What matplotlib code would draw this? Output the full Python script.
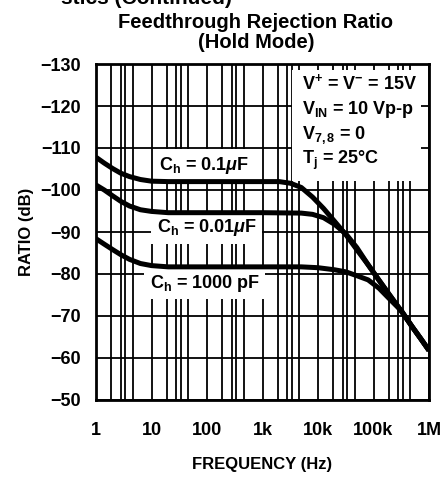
import numpy as np
import matplotlib.pyplot as plt
from matplotlib import font_manager
from matplotlib.patches import Rectangle

names = {f.name for f in font_manager.fontManager.ttflist}
narrow = 'Liberation Sans Narrow' if 'Liberation Sans Narrow' in names else 'Liberation Sans'

plt.rcParams['mathtext.fontset'] = 'custom'
plt.rcParams['mathtext.rm'] = narrow + ':bold'
plt.rcParams['mathtext.it'] = narrow + ':bold:italic'
plt.rcParams['mathtext.bf'] = narrow + ':bold'

# values (Hz, dB)
freq_100n = [1, 1.41, 2, 2.8, 4, 6.3, 10, 20, 100, 1000, 2000, 3200, 5000, 8000, 12600,
             20000, 32000, 50000, 80000, 126000, 200000, 320000, 500000, 710000, 1000000]
ratio_100n = [-107.8, -106.4, -105.1, -104.0, -103.2, -102.5, -102.1, -102, -102, -102,
              -102, -101.6, -100.6, -98.3, -95.6, -92.5, -89.3, -85.8, -82.2, -78.5,
              -74.8, -71.1, -67.4, -64.6, -61.8]

freq_10n = [1, 1.41, 2, 2.8, 4, 6.3, 10, 20, 100, 1000, 5000, 8000, 12600, 20000, 32000,
            50000, 80000, 126000, 200000, 320000, 500000, 710000, 1000000]
ratio_10n = [-101.2, -100.0, -98.6, -97.3, -96.2, -95.3, -94.9, -94.6, -94.6, -94.6,
             -94.5, -94.2, -93.4, -91.8, -89.5, -86.3, -82.2, -78.5, -74.8, -71.1,
             -67.4, -64.6, -61.8]

freq_1n = [1, 1.41, 2, 2.8, 4, 6.3, 10, 20, 100, 1000, 5000, 10000, 20000, 32000, 50000,
           80000, 126000, 200000, 320000, 500000, 710000, 1000000]
ratio_1n = [-88.4, -87.1, -85.8, -84.6, -83.5, -82.5, -82.0, -81.7, -81.7, -81.7, -81.7,
            -81.5, -81.0, -80.5, -79.6, -78.6, -76.6, -73.9, -71.2, -67.4, -64.6, -61.8]

labels = ['C$_\\mathrm{h}$ = 0.1$\\mu$F', 'C$_\\mathrm{h}$ = 0.01$\\mu$F',
          'C$_\\mathrm{h}$ = 1000 pF']
conditions = ['V$^{+}$ = V$^{-}$ = 15V', 'V$_\\mathrm{IN}$ = 10 Vp-p',
              'V$_\\mathrm{7,8}$ = 0', 'T$_\\mathrm{j}$ = 25°C']

x_ticks = [1, 10, 100, 1e3, 1e4, 1e5, 1e6]
x_ticklabels = ['1', '10', '100', '1k', '10k', '100k', '1M']
y_ticks = [-130, -120, -110, -100, -90, -80, -70, -60, -50]

fig = plt.figure(figsize=(4.46, 4.80), dpi=100)
ax = fig.add_axes([96/446, 80/480, 333/446, 336/480])

ax.set_xscale('log')
ax.set_xlim(1, 1e6)
ax.set_ylim(-50, -130)

minor = [d * m for d in [1, 10, 100, 1e3, 1e4, 1e5] for m in [1.9, 2.8, 3.4, 4.6]]
ax.set_xticks(x_ticks)
ax.set_xticks(minor, minor=True)
ax.set_xticklabels(x_ticklabels)
ax.set_yticks(y_ticks)
ax.set_yticklabels(['\u2212%d' % abs(v) for v in y_ticks])
ax.tick_params(which='both', length=0)
ax.tick_params(axis='x', pad=16)
ax.tick_params(axis='y', pad=11)
for lab in ax.get_xticklabels() + ax.get_yticklabels():
    lab.set_fontfamily(narrow)
    lab.set_fontweight('bold')
    lab.set_fontsize(13)

ax.set_axisbelow(True)
ax.grid(which='both', color='black', linewidth=1.3)
for s in ax.spines.values():
    s.set_linewidth(2.0)

# white panel behind the test conditions
ax.add_patch(Rectangle((0.589, 0.652), 0.387, 0.33, transform=ax.transAxes,
                       facecolor='white', edgecolor='none', zorder=1))

for f, r in [(freq_100n, ratio_100n), (freq_10n, ratio_10n), (freq_1n, ratio_1n)]:
    ax.plot(f, r, color='black', linewidth=3.6, solid_capstyle='butt',
            solid_joinstyle='round', zorder=4)

label_pos = [(0.324, 0.699), (0.333, 0.512), (0.327, 0.348)]
for txt, (px, py) in zip(labels, label_pos):
    ax.text(px, py, txt, transform=ax.transAxes, ha='center', va='center',
            fontsize=13, fontweight='bold', family=narrow, zorder=3,
            bbox=dict(boxstyle='square,pad=0.3', facecolor='white', edgecolor='none'))

for i, txt in enumerate(conditions):
    ax.text(0.619, 0.943 - i * 0.077, txt, transform=ax.transAxes, ha='left',
            va='center', fontsize=13, fontweight='bold', family=narrow, zorder=3)

fig.text(232/446, 1 - 4/480, 'stics (Continued)', ha='right', va='baseline',
         fontsize=15, fontweight='bold', family='Liberation Sans')
fig.text(256/446, 1 - 22/480, 'Feedthrough Rejection Ratio', ha='center', va='center',
         fontsize=14.5, fontweight='bold', family='Liberation Sans')
fig.text(256/446, 1 - 42/480, '(Hold Mode)', ha='center', va='center',
         fontsize=14.5, fontweight='bold', family='Liberation Sans')
fig.text(262/446, 1 - 464/480, 'FREQUENCY (Hz)', ha='center', va='center',
         fontsize=12, fontweight='bold', family=narrow)
fig.text(27/446, 1 - 232/480, 'RATIO (dB)', ha='center', va='center', rotation=90,
         fontsize=12, fontweight='bold', family=narrow)

fig.savefig('out.png', dpi=100)
